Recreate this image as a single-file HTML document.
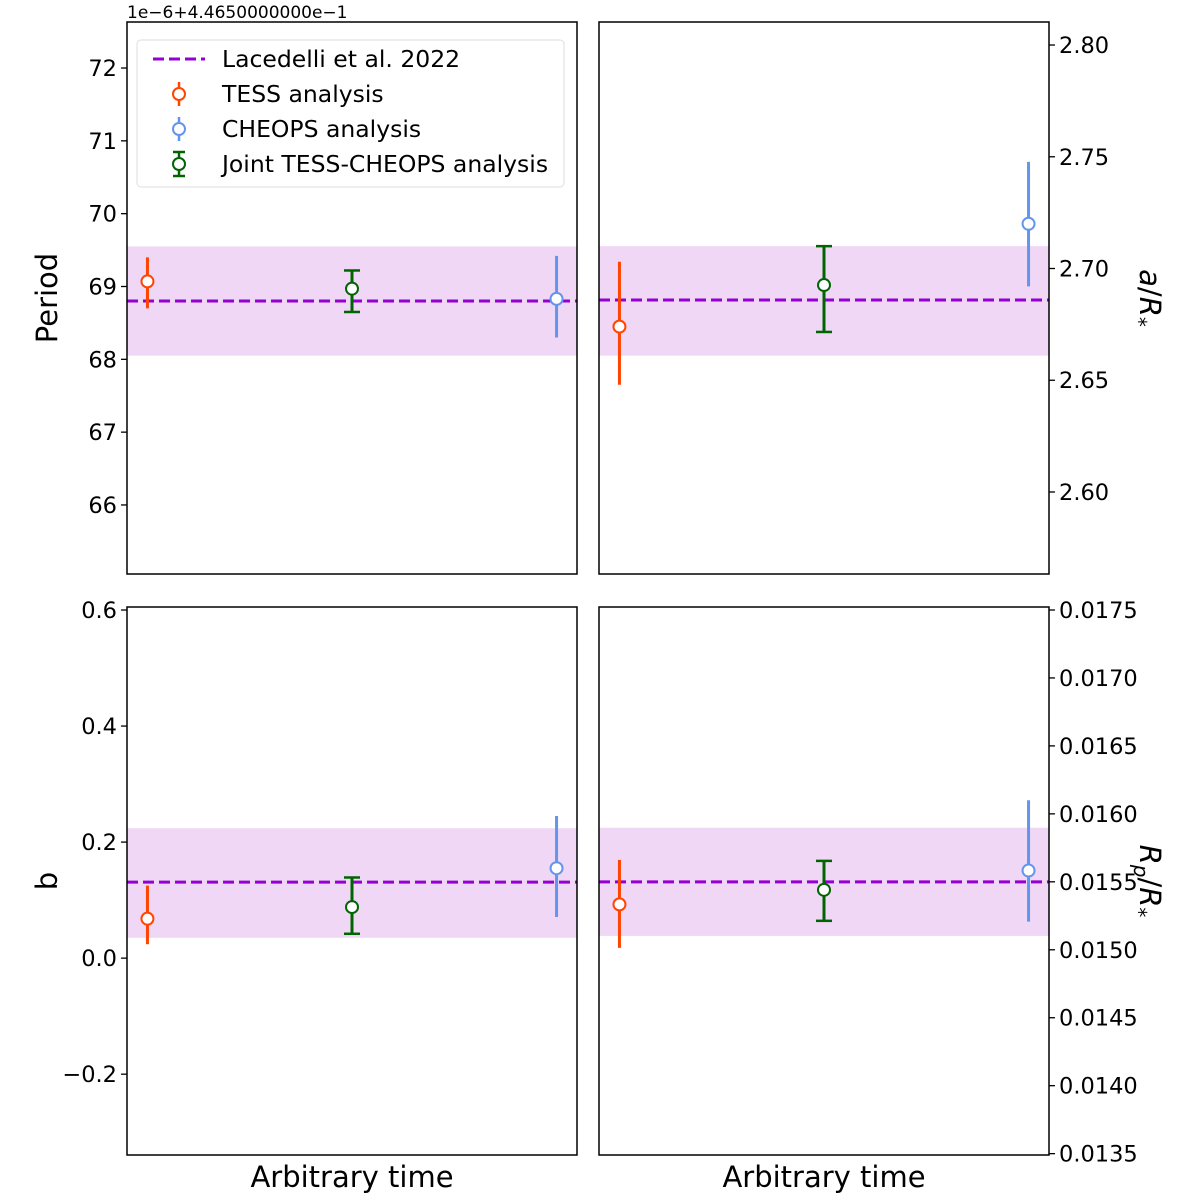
<!DOCTYPE html>
<html><head><meta charset="utf-8"><style>
html,body{margin:0;padding:0;background:#fff;}
svg{display:block;font-family:"DejaVu Sans","Liberation Sans",sans-serif;}
</style></head><body>
<svg id="chart" width="1200" height="1200" viewBox="0 0 1200 1200"></svg>
<script>
const NS="http://www.w3.org/2000/svg";
const svg=document.getElementById('chart');
// ---- data ----
const seriesNames=["TESS analysis","Joint TESS-CHEOPS analysis","CHEOPS analysis"];
const seriesX=[0,1,2];
const periodVals=[69.07,68.97,68.83];
const periodLo=[68.70,68.65,68.30];
const periodHi=[69.40,69.22,69.42];
const periodRef=[68.80,68.05,69.55];
const periodTicks=["66","67","68","69","70","71","72"];
const arVals=[2.674,2.6926,2.720];
const arLo=[2.648,2.6716,2.692];
const arHi=[2.703,2.710,2.7477];
const arRef=[2.6859,2.661,2.710];
const arTicks=["2.60","2.65","2.70","2.75","2.80"];
const bVals=[0.068,0.088,0.155];
const bLo=[0.024,0.042,0.071];
const bHi=[0.125,0.139,0.245];
const bRef=[0.131,0.035,0.224];
const bTicks=["-0.2","0.0","0.2","0.4","0.6"];
const rpVals=[0.015334,0.015441,0.015583];
const rpLo=[0.015014,0.015213,0.015207];
const rpHi=[0.015661,0.015654,0.016100];
const rpRef=[0.015500,0.015102,0.015898];
const rpTicks=["0.0135","0.0140","0.0145","0.0150","0.0155","0.0160","0.0165","0.0170","0.0175"];
const colors=["#ff4500","#006400","#6495ed"];
const caps=[false,true,false];

function el(tag,attrs,parent){const e=document.createElementNS(NS,tag);for(const k in attrs)e.setAttribute(k,attrs[k]);(parent||svg).appendChild(e);return e;}

function panel(name,x0,y0,w,h,ymin,ymax,vals,lo,hi,ref,ticks,side,label,xlabel){
  const g=el('g',{});
  
  
  const xs=v=>x0+(v+0.1)/2.2*w;
  const ys=v=>y0+h-(v-ymin)/(ymax-ymin)*h;
  const band=el('rect',{x:x0,y:ys(ref[2]),width:w,height:ys(ref[1])-ys(ref[2]),fill:'#efd7f5'},g);
  
  
  const rl=el('line',{x1:x0,x2:x0+w,y1:ys(ref[0]),y2:ys(ref[0]),stroke:'#9400d3','stroke-width':3,'stroke-dasharray':'11,5'},g);
  
  
  for(let i=0;i<vals.length;i++){
    const px=xs(seriesX[i]);
    const eb=el('g',{},g);
    
    
    el('line',{x1:px,x2:px,y1:ys(lo[i]),y2:ys(hi[i]),stroke:colors[i],'stroke-width':3},eb);
    if(caps[i]){
      el('line',{x1:px-8,x2:px+8,y1:ys(lo[i]),y2:ys(lo[i]),stroke:colors[i],'stroke-width':2.5},eb);
      el('line',{x1:px-8,x2:px+8,y1:ys(hi[i]),y2:ys(hi[i]),stroke:colors[i],'stroke-width':2.5},eb);
    }
    el('circle',{cx:px,cy:ys(vals[i]),r:6,fill:'#fff',stroke:colors[i],'stroke-width':2},eb);
  }
  const fr=el('rect',{x:x0,y:y0,width:w,height:h,fill:'none',stroke:'#000','stroke-width':1.5},g);
  
  
  for(const t of ticks){
    const v=parseFloat(t);const y=ys(v);
    const tx=side==='left'?x0:x0+w;
    el('line',{x1:tx,x2:side==='left'?tx-6:tx+6,y1:y,y2:y,stroke:'#000','stroke-width':1.3},g);
    const txt=el('text',{x:side==='left'?tx-10:tx+10,y:y+8,'font-size':22.5,'text-anchor':side==='left'?'end':'start',fill:'#000'},g);
    txt.textContent=String(t).replace('-','\u2212');
    
    
  }
  const cy=y0+h/2;
  let lab;
  if(side==='left'){
    lab=el('text',{x:0,y:0,'font-size':29,'text-anchor':'middle',transform:`translate(${x0-70},${cy}) rotate(-90)`},g);
  } else {
    lab=el('text',{x:0,y:0,'font-size':29,'text-anchor':'middle',transform:`translate(${x0+w+91},${cy}) rotate(90)`},g);
  }
  lab.innerHTML=label;
  
  
  if(xlabel){
    const xl=el('text',{x:x0+w/2,y:1187,'font-size':29,'text-anchor':'middle'},g);
    xl.textContent='Arbitrary time';
    
    
  }
}
panel('panel-period',127,22,450,552,65.052,72.632,periodVals,periodLo,periodHi,periodRef,periodTicks,'left','Period',false);
panel('panel-a-over-r',599,22,450,552,2.5633,2.8103,arVals,arLo,arHi,arRef,arTicks,'right','<tspan font-style="italic">a</tspan>/<tspan font-style="italic">R</tspan><tspan font-size="20" dy="8">*</tspan>',false);
panel('panel-b',127,607,450,548,-0.3393,0.6052,bVals,bLo,bHi,bRef,bTicks,'left','b',true);
panel('panel-rp-over-r',599,607,450,548,0.01349,0.017522,rpVals,rpLo,rpHi,rpRef,rpTicks,'right','<tspan font-style="italic">R</tspan><tspan font-style="italic" font-size="20" dy="6">p</tspan><tspan dy="-6">/</tspan><tspan font-style="italic">R</tspan><tspan font-size="20" dy="8">*</tspan>',true);

const off=el('text',{x:127,y:18,'font-size':17});
off.textContent='1e\u22126+4.4650000000e\u22121';



// legend
const lg=el('g',{});


el('rect',{x:137,y:40,width:427,height:147,rx:4,fill:'#fff','fill-opacity':0.85,stroke:'#ddd','stroke-width':1},lg);
el('line',{x1:153,x2:205,y1:59,y2:59,stroke:'#9400d3','stroke-width':3,'stroke-dasharray':'11,5'},lg);
const lt=["Lacedelli et al. 2022","TESS analysis","CHEOPS analysis","Joint TESS-CHEOPS analysis"];
const lc=[null,"#ff4500","#6495ed","#006400"];
for(let i=0;i<4;i++){
  const y=59+i*35;
  if(i>0){
    el('line',{x1:179,x2:179,y1:y-12,y2:y+12,stroke:lc[i],'stroke-width':2.5},lg);
    if(i===3){el('line',{x1:173,x2:185,y1:y-12,y2:y-12,stroke:lc[i],'stroke-width':2.5},lg);el('line',{x1:173,x2:185,y1:y+12,y2:y+12,stroke:lc[i],'stroke-width':2.5},lg);}
    el('circle',{cx:179,cy:y,r:6,fill:'#fff',stroke:lc[i],'stroke-width':2},lg);
  }
  const t=el('text',{x:222,y:y+8,'font-size':23.5},lg);
  t.textContent=lt[i];
  
  
}
</script>
</body></html>
